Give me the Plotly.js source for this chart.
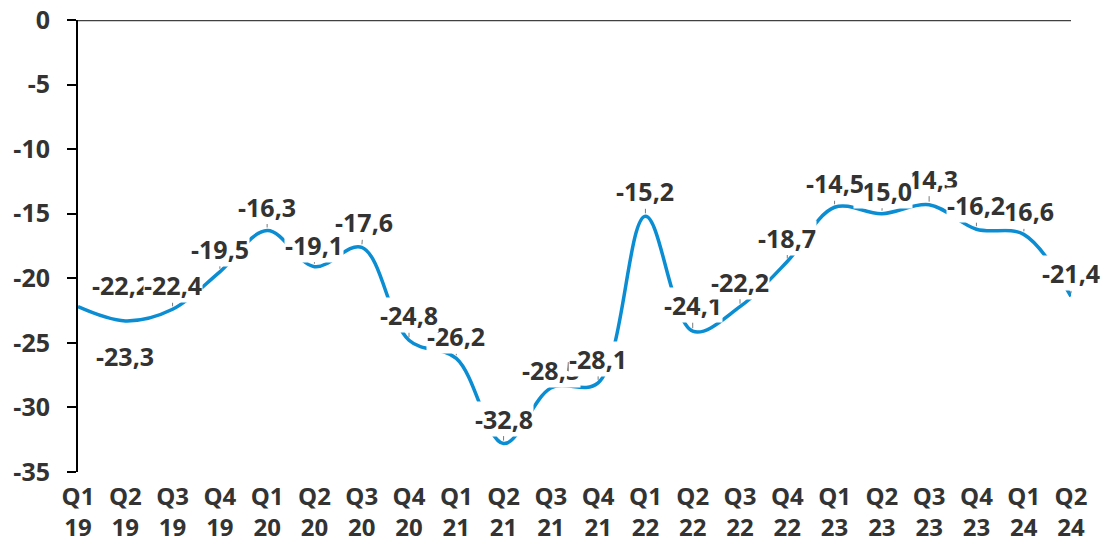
<!DOCTYPE html>
<html>
<head>
<meta charset="utf-8">
<script src="https://cdn.plot.ly/plotly-3.0.1.min.js"></script>
<style>
  html, body { margin: 0; padding: 0; background: #fff; }
  #chart { width: 1105px; height: 546px; }
</style>
</head>
<body>
<div id="chart"></div>
<script>
// ---- data ----
const quarters = ["Q1","Q2","Q3","Q4","Q1","Q2","Q3","Q4","Q1","Q2","Q3","Q4","Q1","Q2","Q3","Q4","Q1","Q2","Q3","Q4","Q1","Q2"];
const years    = ["19","19","19","19","20","20","20","20","21","21","21","21","22","22","22","22","23","23","23","23","24","24"];
const values   = [-22.2,-23.3,-22.4,-19.5,-16.3,-19.1,-17.6,-24.8,-26.2,-32.8,-28.5,-28.1,-15.2,-24.1,-22.2,-18.7,-14.5,-15.0,-14.3,-16.2,-16.6,-21.4];
const yTickVals  = [0,-5,-10,-15,-20,-25,-30,-35];
const yTickTexts = ["0","-5","-10","-15","-20","-25","-30","-35"];

// ---- label placement (pixel offsets from the point) & drawing order ----
const labelDx = [43,0,0,0,0,0,2,0,0,0,0,0,0,0,0,0,0,1,0,0,1,0];
const labelDy = [-22,35,-24,-23,-24,-22,-25,-25,-22,-25,-18,-24,-25,-26,-25,-24,-24,-23,-26,-24,-23,-23];
const noLeader = [0,1];
const drawOrder = [0,1,2,3,4,6,5,8,7,9,10,11,12,13,14,15,18,17,16,20,19,21];

const cats = quarters.map((q, i) => q + "<br>" + years[i]);
const catIds = quarters.map((q, i) => q + " " + years[i]);

const FONT = "'Open Sans', 'Noto Sans', sans-serif";

const trace = {
  type: "scatter",
  mode: "lines",
  x: catIds,
  y: values,
  line: { color: "#0A8DD2", width: 3.5, shape: "spline", smoothing: 1 },
  hoverinfo: "skip",
  cliponaxis: false
};

const annotations = drawOrder.map(i => ({
  x: catIds[i],
  y: values[i],
  xref: "x",
  yref: "y",
  text: values[i].toFixed(1).replace(".", ","),
  showarrow: true,
  arrowhead: 0,
  arrowwidth: 1,
  arrowcolor: noLeader.includes(i) ? "rgba(0,0,0,0)" : "#7a7a7a",
  standoff: 3,
  ax: labelDx[i],
  ay: labelDy[i],
  bgcolor: "#ffffff",
  borderpad: 0,
  font: { family: FONT, size: 25, color: "#333333", weight: 700 }
}));

const layout = {
  width: 1105,
  height: 546,
  margin: { l: 78, r: 34, t: 20, b: 74 },
  paper_bgcolor: "#ffffff",
  plot_bgcolor: "#ffffff",
  showlegend: false,
  xaxis: {
    type: "category",
    categoryorder: "array",
    categoryarray: catIds,
    tickvals: catIds,
    ticktext: cats,
    range: [0, catIds.length - 1],
    showgrid: false,
    zeroline: false,
    showline: false,
    ticks: "",
    ticklabelstandoff: 8,
    tickfont: { family: FONT, size: 24, color: "#333333", weight: 700 },
    fixedrange: true
  },
  yaxis: {
    range: [-35, 0],
    tickmode: "array",
    tickvals: yTickVals,
    ticktext: yTickTexts,
    showgrid: false,
    zeroline: false,
    showline: true,
    linecolor: "#000000",
    linewidth: 2,
    ticks: "outside",
    ticklen: 9,
    tickwidth: 2,
    tickcolor: "#000000",
    ticklabelstandoff: 12,
    tickfont: { family: FONT, size: 25, color: "#333333", weight: 700 },
    fixedrange: true
  },
  shapes: [{
    type: "line",
    xref: "paper", yref: "y",
    x0: 0, x1: 1, y0: 0, y1: 0,
    line: { color: "#404040", width: 2.5 }
  }],
  annotations: annotations
};

Plotly.newPlot("chart", [trace], layout, { displayModeBar: false, staticPlot: true });
</script>
</body>
</html>
